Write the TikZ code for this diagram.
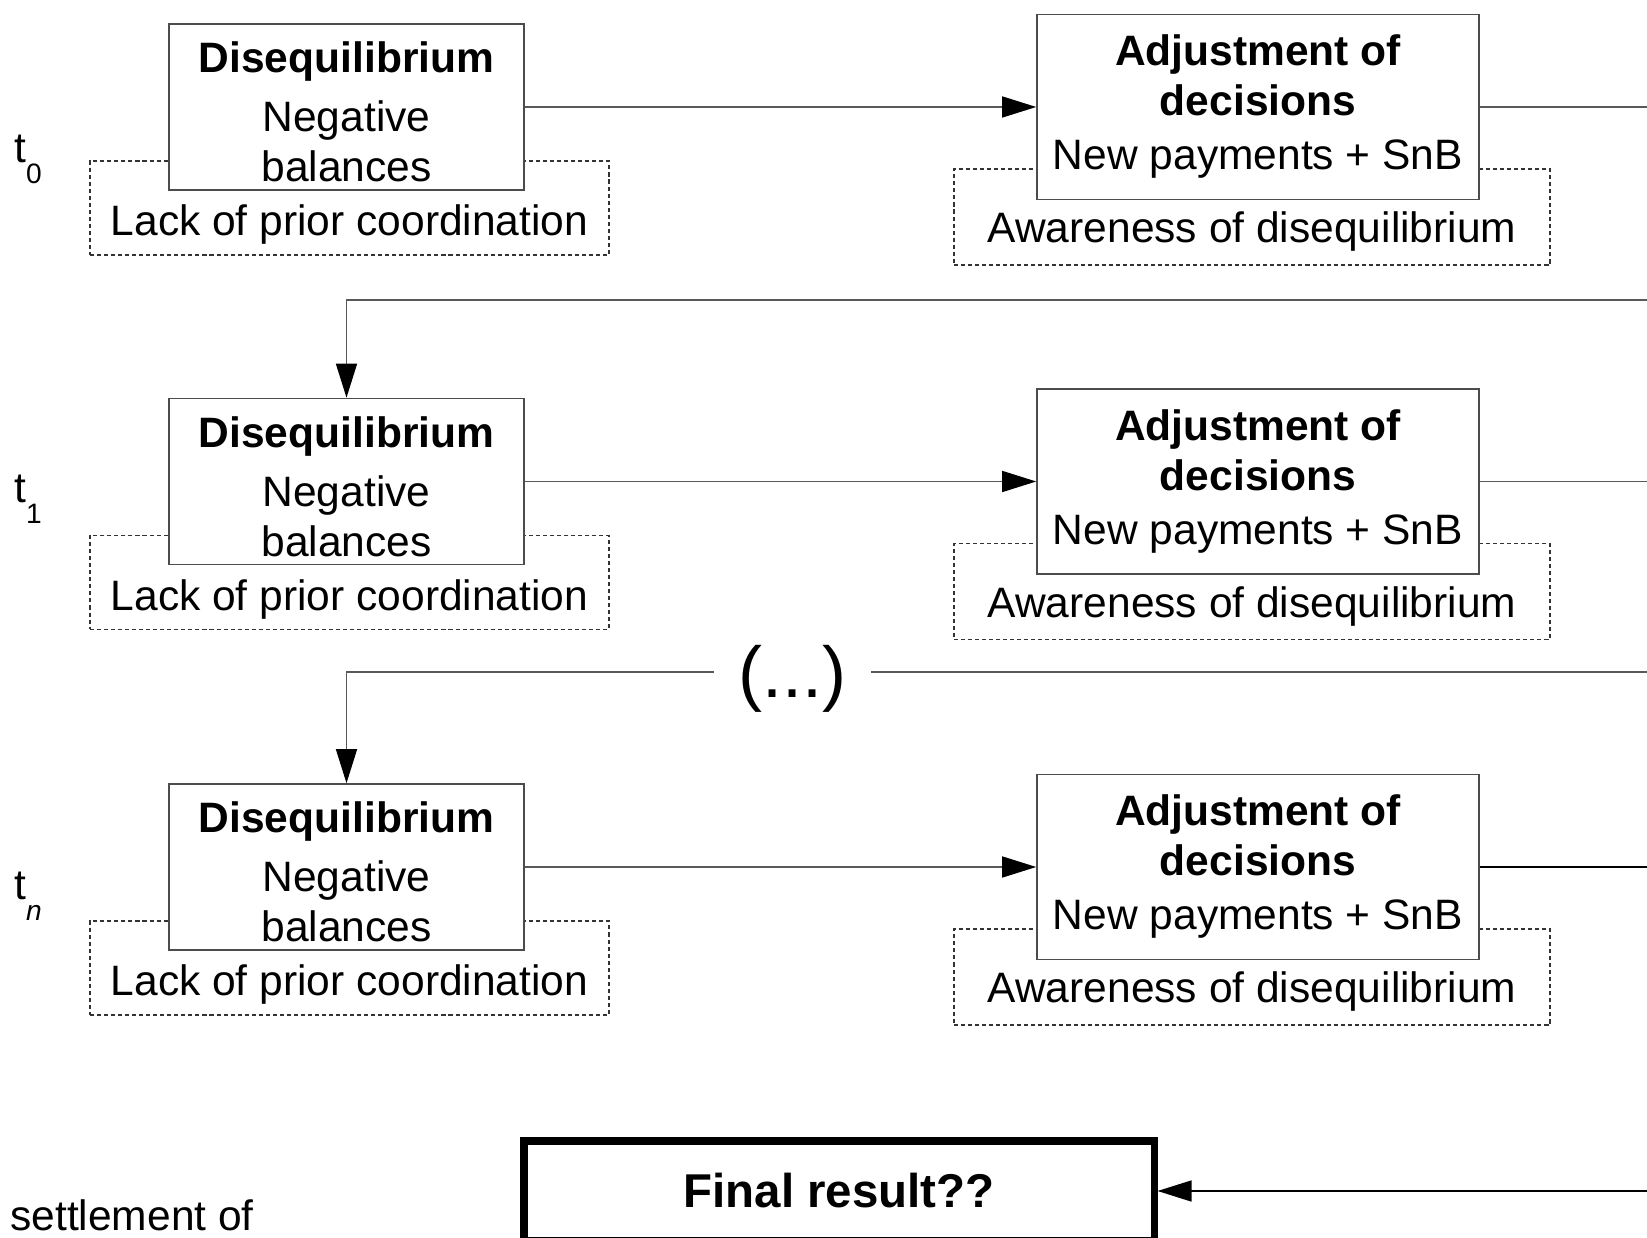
\documentclass[tikz,border=0pt]{standalone}
\usepackage{fontspec}
\setmainfont{Liberation Sans}
\usetikzlibrary{arrows.meta}

\begin{document}
\begin{tikzpicture}[
  font=\fontsize{24.2pt}{1cm}\selectfont,
  mainbox/.style={draw=black!70, line width=0.9pt, fill=white, align=center, inner sep=0pt},
  dashbox/.style={draw=black!80, line width=0.6pt, dash pattern=on 2.3pt off 1.7pt, inner sep=0.1cm},
  flow/.style={draw=black!65, line width=0.85pt, -{Triangle[length=0.68cm,width=0.42cm,color=black]}},
  finalbox/.style={draw=black, line width=4pt, font=\fontsize{27pt}{32pt}\selectfont\bfseries}
]
\useasboundingbox (0,0) rectangle (32.94,24.74);
\clip (0,0) rectangle (32.94,24.74);
\foreach \i/\y/\ty/\sub in {0/22.6/21.48/0, 1/15.11/14.68/1, n/7.4/6.74/\textit{n}} {
  \node[dashbox, minimum width=10.38cm, text height=1.4cm, text depth=0.28cm] (lack\i) at (6.99,\y-2.02) {Lack of prior coordination};
  \node[dashbox, minimum width=11.92cm, text height=1.38cm, text depth=0.34cm] (aware\i) at (25.04,\y-2.2) {Awareness of disequilibrium};
  \node[mainbox, minimum width=7.1cm, minimum height=3.32cm] (dis\i) at (6.93,\y) {\rule{0pt}{0.82cm}\textbf{Disequilibrium}\\[0.18cm]Negative\\balances};
  \node[mainbox, minimum width=8.84cm, minimum height=3.7cm] (adj\i) at (25.16,\y) {\textbf{Adjustment of}\\\textbf{decisions}\\[0.08cm]New payments + SnB};
  \draw[flow] (dis\i) -- (adj\i);
  \node[anchor=base west, inner sep=0pt] (t\i) at (0.28,\ty) {t\raisebox{-0.42cm}{\fontsize{16pt}{16pt}\selectfont\sub}};
}
% the returns run off the right edge
\coordinate (r0) at (34,18.74);
\coordinate (r1) at (34,11.3);
\coordinate (r2) at (34,0.92);
\draw[flow] (adj0.east) -- (adj0.east -| r0) -- (r0) -| (dis1.north);
\draw[flow] (adj1.east) -- (adj1.east -| r1) -- (r1) -| (disn.north);
\node[fill=white, minimum width=3.14cm, inner sep=0pt, font=\fontsize{41pt}{48pt}\selectfont] (dots) at (15.85,11.16) {(...)};
\node[finalbox, minimum width=12.6cm, minimum height=2cm] (final) at (16.78,0.92) {Final result??};
\draw[flow, draw=black] (adjn.east) -- (adjn.east -| r2) -- (r2) -- (final.east);
\node[anchor=base west, inner sep=0pt] (settle) at (0.2,0.13) {settlement of};
\end{tikzpicture}
\end{document}
